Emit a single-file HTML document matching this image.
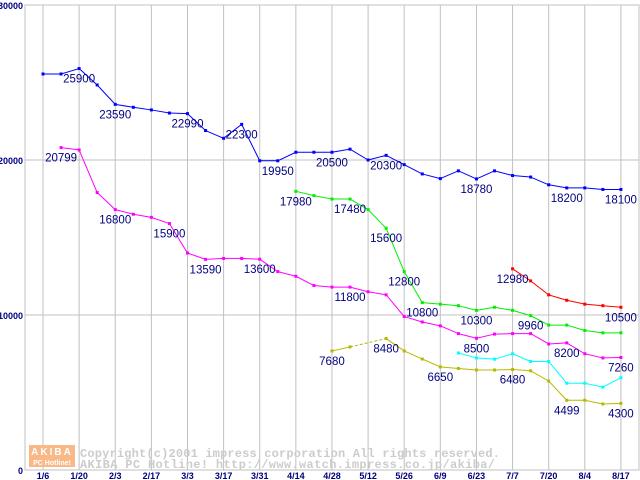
<!DOCTYPE html>
<html><head><meta charset="utf-8"><style>
body{margin:0;background:#fff;}
svg{display:block;font-family:"Liberation Sans",sans-serif;}
</style></head><body>
<svg id="chart" width="640" height="480" viewBox="0 0 640 480">
<g id="grid"></g>
<g id="wm">
<rect x="29" y="445" width="46" height="22" fill="#f8b888"/>
<text x="52" y="455" font-size="10" font-weight="bold" fill="#fff" text-anchor="middle" letter-spacing="2">AKIBA</text>
<text x="52" y="465" font-size="7" font-weight="bold" fill="#fff" text-anchor="middle">PC Hotline!</text>
<text x="80" y="457" font-family="Liberation Mono,monospace" font-size="12" font-weight="bold" fill="#cccccc" textLength="420">Copyright(c)2001 impress corporation All rights reserved.</text>
<text x="80" y="468" font-family="Liberation Mono,monospace" font-size="12" font-weight="bold" fill="#cccccc" textLength="415">AKIBA PC Hotline!  http://www.watch.impress.co.jp/akiba/</text>
</g>
<g id="series"></g>
<g id="labels"></g>
</svg>
<script>
const xTicks=["1/6","1/20","2/3","2/17","3/3","3/17","3/31","4/14","4/28","5/12","5/26","6/9","6/23","7/7","7/20","8/4","8/17"];
const yTicks=[0,10000,20000,30000];
const blue=[25550,25550,25900,24840,23590,23400,23230,23030,22990,21900,21400,22300,19950,19950,20500,20500,20500,20700,20000,20300,19700,19100,18800,19300,18780,19300,19000,18900,18400,18200,18200,18100,18100];
const magenta=[null,20799,20650,17900,16800,16500,16300,15900,14000,13590,13650,13650,13600,12800,12500,11900,11800,11800,11500,11300,9900,9550,9300,8800,8500,8770,8800,8800,8130,8200,7500,7230,7260];
const green=[null,null,null,null,null,null,null,null,null,null,null,null,null,null,17980,17700,17480,17480,16800,15600,12800,10800,10700,10600,10300,10500,10300,9960,9350,9350,9000,8850,8850];
const red=[null,null,null,null,null,null,null,null,null,null,null,null,null,null,null,null,null,null,null,null,null,null,null,null,null,null,12980,12200,11300,10950,10700,10600,10500];
const cyan=[null,null,null,null,null,null,null,null,null,null,null,null,null,null,null,null,null,null,null,null,null,null,null,7550,7230,7150,7500,7000,7000,5600,5600,5350,5950];
const yellow=[null,null,null,null,null,null,null,null,null,null,null,null,null,null,null,null,7680,7940,null,8480,7680,7160,6650,6550,6450,6450,6480,6400,5740,4499,4500,4260,4300];
const seriesList=[[blue,"#0000ff"],[magenta,"#ff00ff"],[green,"#00ee00"],[red,"#ff0000"],[cyan,"#00ffff"],[yellow,"#b8b800"]];
const labelWeeks=[[0,2],[0,4],[0,8],[0,11],[0,13],[0,16],[0,19],[0,24],[0,29],[0,32],[1,1],[1,4],[1,7],[1,9],[1,12],[1,17],[1,24],[1,29],[1,32],[2,14],[2,17],[2,19],[2,20],[2,21],[2,24],[2,27],[3,26],[3,32],[5,16],[5,19],[5,22],[5,26],[5,29],[5,32]];
const NS="http://www.w3.org/2000/svg";
const X=i=>43+i*18.06;
const Y=v=>470-v*0.0155;
function mk(tag,attrs,parent){const e=document.createElementNS(NS,tag);for(const k in attrs)e.setAttribute(k,attrs[k]);parent.appendChild(e);return e;}
const grid=document.getElementById('grid');
mk('rect',{x:25,y:5,width:614,height:465,fill:'none',stroke:'#c0c0c0'},grid);
xTicks.forEach((t,k)=>{const x=X(k*2);
 const l=mk('line',{x1:x,y1:5,x2:x,y2:470,stroke:'#c0c0c0'},grid);
 
 
 const tx=mk('text',{x:x,y:479,'font-size':9,'font-weight':'bold',fill:'#000080','text-anchor':'middle'},grid);tx.textContent=t;
 
 
});
yTicks.forEach(v=>{const y=Y(v);
 if(v>0&&v<30000){const l=mk('line',{x1:25,y1:y,x2:639,y2:y,stroke:'#c0c0c0'},grid);
 
 }
 const tx=mk('text',{x:23,y:y+4,'font-size':9,'font-weight':'bold',fill:'#000080','text-anchor':'end'},grid);tx.textContent=v;
 
 
});
const sg=document.getElementById('series');
seriesList.forEach(([arr,col],si)=>{
 for(let i=0;i<arr.length-1;i++){
  if(arr[i]==null)continue;
  let j=i+1;while(j<arr.length&&arr[j]==null)j++;
  if(j>=arr.length)break;
  if(j-i>1&&i<14&&si!==5)continue;
  const l=mk('line',{x1:X(i),y1:Y(arr[i]),x2:X(j),y2:Y(arr[j]),stroke:col,'stroke-width':1},sg);
  if(j-i>1)l.setAttribute('stroke-dasharray','3,2');
  
  
 }
 arr.forEach((v,i)=>{if(v==null)return;
  const r=mk('rect',{x:X(i)-1.5,y:Y(v)-1.5,width:3,height:3,fill:col},sg);
  
  
 });
});
const lg=document.getElementById('labels');
labelWeeks.forEach(([si,i])=>{const v=seriesList[si][0][i];
 const t=mk('text',{x:X(i),y:Y(v)+14,'font-size':11.5,fill:'#000080','text-anchor':'middle'},lg);t.textContent=v;
 
 
});
</script>
</body></html>
